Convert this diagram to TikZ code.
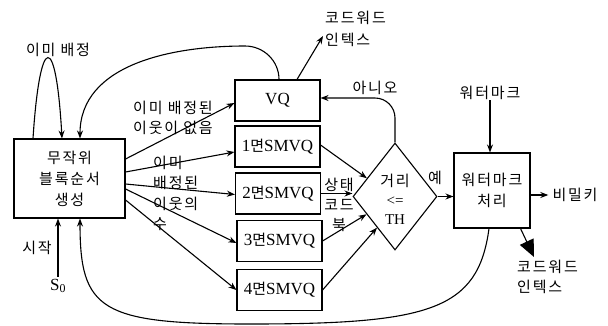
\documentclass[tikz,border=0pt]{standalone}
\usepackage{fontspec}
\setmainfont{Liberation Serif}
\newfontfamily\kr[LetterSpace=12]{Noto Sans CJK KR}
\usetikzlibrary{shapes.geometric,arrows.meta}
\begin{document}
\begin{tikzpicture}[x=1pt,y=-1pt,
  box/.style={draw, line width=1.1pt, inner sep=0pt},
  arr/.style={-{Stealth[length=8pt,width=6pt]}, line width=1.1pt},
  kt/.style={font=\kr\fontsize{15}{20}\selectfont, inner sep=0pt},
  lt/.style={font=\fontsize{17}{18}\selectfont, inner sep=0pt},
]
\useasboundingbox[fill=white] (0,0) rectangle (608,325);

% boxes
\node[box, minimum width=111pt, minimum height=79pt, align=center, font=\kr\fontsize{15}{21}\selectfont] (m) at (69.5,178.5) {무작위\\블록순서\\생성};
\node[box, lt, minimum width=85pt, minimum height=41pt] (vq) at (277.5,100.5) {VQ};
\node[box, lt, minimum width=85pt, minimum height=41pt] (s1) at (277.5,146.5) {1{\kr\fontsize{15}{18}\selectfont 면}SMVQ};
\node[box, lt, minimum width=85pt, minimum height=41pt] (s2) at (278,193.5) {2{\kr\fontsize{15}{18}\selectfont 면}SMVQ};
\node[box, lt, minimum width=85pt, minimum height=41pt] (s3) at (279.5,241) {3{\kr\fontsize{15}{18}\selectfont 면}SMVQ};
\node[box, lt, minimum width=85pt, minimum height=41pt] (s4) at (279.5,290) {4{\kr\fontsize{15}{18}\selectfont 면}SMVQ};
\node[draw, line width=1.1pt, diamond, minimum width=84pt, minimum height=107pt, inner sep=0pt] (d) at (395,196.5) {};
\node[align=center, inner sep=0pt, font=\fontsize{15}{19}\selectfont] (dt) at (395,199) {{\kr\fontsize{15}{19}\selectfont 거리}\\<=\\TH};
\node[box, minimum width=76pt, minimum height=75pt, align=center, font=\kr\fontsize{15}{21}\selectfont] (wm) at (492,190.5) {워터마크\\처리};

% labels
\node[kt] (lself) at (58,50) {이미 배정};
\node[kt, align=left, anchor=west, font=\kr\fontsize{15}{22}\selectfont] (cw1) at (325,29) {코드워드\\인텍스};
\node[kt, align=left, anchor=west] (l1) at (133,118) {이미 배정된\\이웃이 없음};
\node[kt, align=left, anchor=west, font=\kr\fontsize{15}{20.3}\selectfont] (l2) at (153,193.5) {이미\\배정된\\이웃의\\수};
\node[kt, align=center] (l3) at (339,205) {상태\\코드\\북};
\node[kt] (lno) at (375,88) {아니오};
\node[kt] (lyes) at (435,178) {예};
\node[kt] (wml) at (490,93) {워터마크};
\node[kt, inner sep=4pt] (key) at (575,195) {비밀키};
\node[kt, align=left, anchor=west, font=\kr\fontsize{15}{20}\selectfont] (cw2) at (517,277) {코드워드\\인텍스};
\node[kt] (lstart) at (37,248) {시작};
\node[lt, inner sep=2pt] (s0) at (58,286) {S\textsubscript{0}};
\coordinate (cw1tip) at (323,36);
\coordinate (cw2tip) at (534,257);

% connectors
\draw[arr] ([yshift=19.5pt]m.east) -- ([yshift=-2.5pt]vq.west);
\draw[arr] ([yshift=6.5pt]m.east) -- ([yshift=-5.5pt]s1.west);
\draw[arr] ([yshift=-5.5pt]m.east) -- ([yshift=-1pt]s2.west);
\draw[arr] ([yshift=-10.5pt]m.east) -- ([yshift=-2pt]s3.west);
\draw[arr] ([yshift=-21.5pt]m.east) -- (s4.west);

\draw[arr] ([yshift=1.5pt]s1.east) -- (d.147);
\draw[arr] (s2.east) -- (s2.east -| d.west);
\draw[arr] (s3.east) -- (d.212);
\draw[arr] (s4.east) -- (d.240);

\draw[arr, rounded corners=20pt] (d.north) |- ([yshift=2.5pt]vq.east);
\draw[arr] (d.east) -- (d.east -| wm.west);
\draw[arr] (wml.south) -- (wml.south |- wm.north);
\draw[arr] ([yshift=-4.5pt]wm.east) -- (key.west);
\draw[arr] ([xshift=19.5pt]vq.north) -- (cw1tip);
\draw[-{Triangle[length=17pt,width=15pt]}, line width=1.1pt] ([xshift=-10pt]wm.south east) -- (cw2tip);

\draw[arr] ([xshift=1.5pt]vq.north) to[out=90,in=0] (245,46) to[out=180,in=90] ([xshift=10.5pt]m.north);
\draw[arr] ([xshift=-36.5pt]m.north) .. controls +(7,-107) and +(-6,-107) .. ([xshift=-7.5pt]m.north);
\draw[arr] (s0.north) -- (s0.north |- m.south);
\draw[arr] ([xshift=-3pt]wm.south) .. controls (478,310) and (430,324) .. (250,324) .. controls (100,324) and (80,310) .. ([xshift=10.5pt]m.south);
\end{tikzpicture}
\end{document}
